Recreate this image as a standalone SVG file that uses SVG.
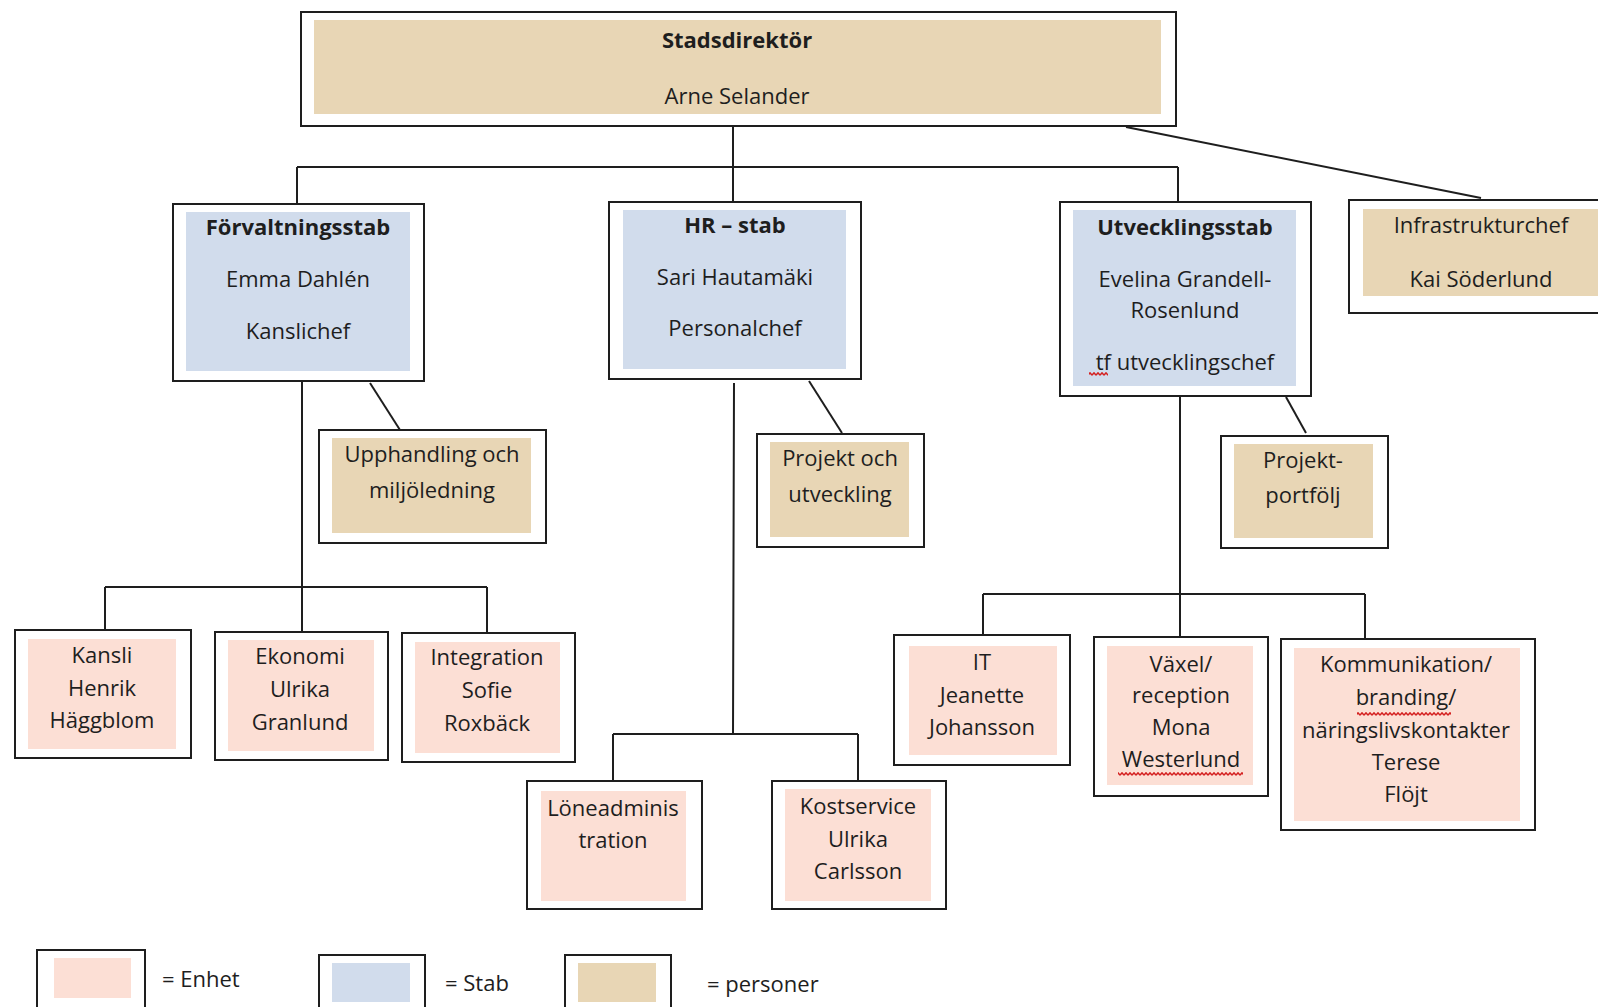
<svg xmlns="http://www.w3.org/2000/svg" width="1598" height="1007" viewBox="0 0 1598 1007">
<style>
.o{fill:#fff;stroke:#1e1e1e;stroke-width:2}
.e{fill:#fcdfd5}
.s{fill:#d1dcec}
.p{fill:#e8d6b5}
.t{font-family:"Open Sans","Liberation Sans",sans-serif;font-size:22px;fill:#1e1e1e;text-anchor:middle}
.l{text-anchor:start}
.b{font-weight:bold}
.c{fill:none;stroke:#1e1e1e;stroke-width:2}
</style>
<defs>
<pattern id="wave" x="0" y="0" width="4" height="4" patternUnits="userSpaceOnUse">
<path d="M0,3.2 L2,0.8 L4,3.2" fill="none" stroke="#d42020" stroke-width="1.4"/>
</pattern>
</defs>
<rect width="1598" height="1007" fill="#fff"/>

<g id="connectors">
<path class="c" d="M733,127 V202 M297,167 H1178 M297,167 V204 M1178,167 V202"/>
<path class="c" d="M1126,127 L1481,198"/>
<path class="c" d="M302,381 V632 M105,587 H487 M105,587 V630 M487,587 V633"/>
<path class="c" d="M370,383 L400,430"/>
<path class="c" d="M734,383 L733,734 M613,734 H858 M613,734 V781 M858,734 V781"/>
<path class="c" d="M809,381 L842,433"/>
<path class="c" d="M1180,397 V637 M983,594 H1365 M983,594 V635 M1365,594 V639"/>
<path class="c" d="M1286,397 L1306,433"/>
</g>

<g id="stadsdirektor">
<rect class="o" x="301" y="12" width="875" height="114"/>
<rect class="p" x="314" y="20" width="847" height="94"/>
<text class="t b" x="737" y="48">Stadsdirektör</text>
<text class="t" x="737" y="104">Arne Selander</text>
</g>

<g id="forvaltningsstab">
<rect class="o" x="173" y="204" width="251" height="177"/>
<rect class="s" x="186" y="212" width="224" height="159"/>
<text class="t b" x="298" y="235">Förvaltningsstab</text>
<text class="t" x="298" y="287">Emma Dahlén</text>
<text class="t" x="298" y="339">Kanslichef</text>
</g>

<g id="hrstab">
<rect class="o" x="609" y="202" width="252" height="177"/>
<rect class="s" x="623" y="210" width="223" height="159"/>
<text class="t b" x="735" y="233">HR – stab</text>
<text class="t" x="735" y="285">Sari Hautamäki</text>
<text class="t" x="735" y="336">Personalchef</text>
</g>

<g id="utvecklingsstab">
<rect class="o" x="1060" y="202" width="251" height="194"/>
<rect class="s" x="1073" y="210" width="223" height="176"/>
<text class="t b" x="1185" y="235">Utvecklingsstab</text>
<text class="t" x="1185" y="287">Evelina Grandell-</text>
<text class="t" x="1185" y="318">Rosenlund</text>
<text class="t" x="1185" y="370">tf utvecklingschef</text>
</g>

<g id="infrastrukturchef">
<rect class="o" x="1349" y="200" width="260" height="113"/>
<rect class="p" x="1363" y="209" width="235" height="87"/>
<text class="t" x="1481" y="233">Infrastrukturchef</text>
<text class="t" x="1481" y="287">Kai Söderlund</text>
</g>

<g id="upphandling">
<rect class="o" x="319" y="430" width="227" height="113"/>
<rect class="p" x="332" y="438" width="199" height="95"/>
<text class="t" x="432" y="462">Upphandling och</text>
<text class="t" x="432" y="498">miljöledning</text>
</g>

<g id="projektutveckling">
<rect class="o" x="757" y="434" width="167" height="113"/>
<rect class="p" x="770" y="442" width="139" height="95"/>
<text class="t" x="840" y="466">Projekt och</text>
<text class="t" x="840" y="502">utveckling</text>
</g>

<g id="projektportfolj">
<rect class="o" x="1221" y="436" width="167" height="112"/>
<rect class="p" x="1234" y="444" width="139" height="94"/>
<text class="t" x="1303" y="468">Projekt-</text>
<text class="t" x="1303" y="503">portfölj</text>
</g>

<g id="kansli">
<rect class="o" x="15" y="630" width="176" height="128"/>
<rect class="e" x="28" y="639" width="148" height="110"/>
<text class="t" x="102" y="663">Kansli</text>
<text class="t" x="102" y="696">Henrik</text>
<text class="t" x="102" y="728">Häggblom</text>
</g>

<g id="ekonomi">
<rect class="o" x="215" y="632" width="173" height="128"/>
<rect class="e" x="228" y="640" width="146" height="111"/>
<text class="t" x="300" y="664">Ekonomi</text>
<text class="t" x="300" y="697">Ulrika</text>
<text class="t" x="300" y="730">Granlund</text>
</g>

<g id="integration">
<rect class="o" x="402" y="633" width="173" height="129"/>
<rect class="e" x="415" y="642" width="145" height="111"/>
<text class="t" x="487" y="665">Integration</text>
<text class="t" x="487" y="698">Sofie</text>
<text class="t" x="487" y="731">Roxbäck</text>
</g>

<g id="loneadministration">
<rect class="o" x="527" y="781" width="175" height="128"/>
<rect class="e" x="541" y="791" width="145" height="110"/>
<text class="t" x="613" y="816">Löneadminis</text>
<text class="t" x="613" y="848">tration</text>
</g>

<g id="kostservice">
<rect class="o" x="772" y="781" width="174" height="128"/>
<rect class="e" x="785" y="789" width="146" height="112"/>
<text class="t" x="858" y="814">Kostservice</text>
<text class="t" x="858" y="847">Ulrika</text>
<text class="t" x="858" y="879">Carlsson</text>
</g>

<g id="it">
<rect class="o" x="894" y="635" width="176" height="130"/>
<rect class="e" x="909" y="646" width="148" height="109"/>
<text class="t" x="982" y="670">IT</text>
<text class="t" x="982" y="703">Jeanette</text>
<text class="t" x="982" y="735">Johansson</text>
</g>

<g id="vaxel">
<rect class="o" x="1094" y="637" width="174" height="159"/>
<rect class="e" x="1107" y="646" width="146" height="139"/>
<text class="t" x="1181" y="672">Växel/</text>
<text class="t" x="1181" y="703">reception</text>
<text class="t" x="1181" y="735">Mona</text>
<text class="t" x="1181" y="767">Westerlund</text>
</g>

<g id="kommunikation">
<rect class="o" x="1281" y="639" width="254" height="191"/>
<rect class="e" x="1294" y="648" width="226" height="173"/>
<text class="t" x="1406" y="672">Kommunikation/</text>
<text class="t" x="1406" y="705">branding/</text>
<text class="t" x="1406" y="738">näringslivskontakter</text>
<text class="t" x="1406" y="770">Terese</text>
<text class="t" x="1406" y="802">Flöjt</text>
</g>

<g id="spellcheck">
<rect x="1089" y="372" width="19" height="4" fill="url(#wave)"/>
<rect x="1357" y="712" width="94" height="4" fill="url(#wave)"/>
<rect x="1118" y="772" width="125" height="4" fill="url(#wave)"/>
</g>

<g id="legend">
<rect class="o" x="37" y="950" width="108" height="70"/>
<rect class="e" x="54" y="958" width="77" height="40"/>
<text class="t l" x="162" y="987">= Enhet</text>
<rect class="o" x="319" y="955" width="106" height="70"/>
<rect class="s" x="332" y="963" width="78" height="39"/>
<text class="t l" x="445" y="991">= Stab</text>
<rect class="o" x="565" y="955" width="106" height="70"/>
<rect class="p" x="578" y="963" width="78" height="39"/>
<text class="t l" x="707" y="992">= personer</text>
</g>
</svg>
